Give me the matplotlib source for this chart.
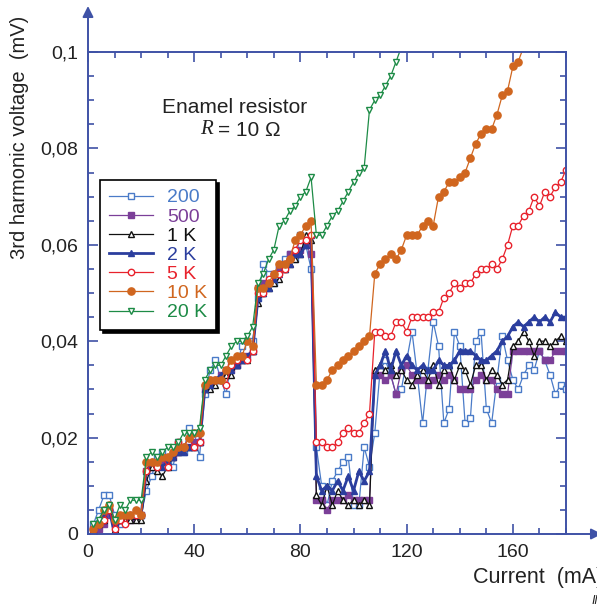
"""
Third harmonic voltage vs current for an enamel resistor (R = 10 ohm)
"""

import numpy as np
import matplotlib.pyplot as plt

plt.rcParams['font.family'] = ['Liberation Sans', 'DejaVu Sans']

# current sweep, mA
current = np.arange(2, 181, 2)

labels = ['200', '500', '1 K', '2 K', '5 K', '10 K', '20 K']

v200 = [.002, .005, .008, .008, .004, .002, .003, .004, .004, .004,
        .009, .012, .016, .017, .015, .014, .019, .017, .022, .021, .016,
        .029, .034, .036, .032, .029, .036, .035, .039, .040, .040,
        .049, .056, .054, .052, .055, .057, .058, .057, .062, .060, .055,
        .018, .010, .006, .011, .013, .015, .016, .006, .006, .018, .014,
        .021, .034, .036, .033, .029, .030, .036, .042, .033, .023, .034,
        .044, .039, .023, .026, .042, .039, .023, .024, .040, .042, .026,
        .023, .032, .041, .036, .032, .030, .033, .035, .034, .038, .036,
        .033, .029, .031, .030]

v500 = [.001, .001, .002, .004, .002, .003, .003, .003, .004, .004,
        .013, .014, .015, .015, .016, .016, .017, .018, .018, .019, .019,
        .030, .031, .032, .033, .034, .034, .035, .036, .037, .038,
        .051, .052, .052, .054, .055, .056, .058, .058, .059, .060, .058,
        .007, .007, .005, .007, .007, .007, .008, .007, .007, .007, .007,
        .033, .033, .032, .033, .029, .034, .035, .033, .032, .032, .031,
        .032, .033, .032, .033, .032, .030, .030, .030, .032, .033, .032,
        .032, .030, .029, .029, .038, .038, .038, .038, .038, .038, .036,
        .036, .038, .038, .038]

v1k = [.001, .002, .003, .006, .001, .003, .003, .003, .003, .003,
       .011, .014, .013, .012, .014, .016, .017, .018, .018, .018, .019,
       .030, .030, .031, .032, .033, .033, .035, .036, .036, .038,
       .048, .050, .051, .052, .053, .055, .056, .057, .058, .062, .061,
       .008, .006, .010, .006, .009, .007, .006, .007, .006, .007, .006,
       .034, .035, .034, .035, .033, .034, .032, .031, .033, .034, .032,
       .035, .031, .034, .035, .032, .035, .034, .031, .035, .035, .032,
       .034, .033, .031, .032, .039, .040, .042, .040, .037, .040, .040,
       .039, .040, .041, .040]

v2k = [.001, .003, .004, .005, .000, .003, .004, .004, .004, .004,
       .013, .015, .015, .014, .015, .016, .017, .017, .018, .018, .019,
       .030, .031, .032, .033, .034, .034, .035, .036, .037, .038,
       .049, .050, .051, .053, .054, .055, .056, .058, .058, .060, .062,
       .012, .009, .010, .009, .011, .009, .012, .009, .013, .011, .013,
       .033, .035, .038, .034, .038, .035, .037, .035, .034, .035, .034,
       .034, .036, .035, .035, .036, .038, .038, .038, .037, .036, .036,
       .037, .038, .040, .041, .043, .044, .043, .044, .045, .044, .045,
       .044, .046, .045, .045]

v5k = [.000, .002, .003, .005, .001, .003, .002, .004, .004, .004,
       .013, .015, .014, .016, .014, .017, .019, .018, .020, .018, .019,
       .031, .032, .032, .032, .031, .035, .036, .037, .036, .038,
       .050, .050, .053, .054, .054, .055, .057, .059, .061, .061, .062,
       .019, .019, .018, .018, .019, .021, .022, .021, .021, .023, .025,
       .042, .042, .041, .041, .044, .044, .042, .045, .045, .045, .045,
       .046, .046, .049, .050, .052, .051, .052, .052, .054, .055, .055,
       .056, .055, .057, .060, .064, .064, .066, .067, .070, .068, .071,
       .070, .072, .073, .0756]

v10k = [.001, .002, .005, .006, .003, .004, .004, .004, .005, .004,
        .015, .015, .015, .016, .016, .017, .018, .018, .020, .021, .021,
        .031, .032, .032, .032, .034, .036, .037, .037, .040, .039,
        .051, .051, .052, .054, .056, .056, .057, .061, .062, .064, .065,
        .031, .031, .032, .034, .035, .036, .037, .038, .039, .040, .041,
        .054, .056, .057, .058, .057, .059, .062, .062, .062, .064, .065,
        .064, .070, .071, .073, .073, .074, .075, .078, .081, .083, .084,
        .084, .087, .091, .092, .097, .098, .101, .104, .107, .110, .113,
        .116, .119, .122, .125]

v20k = [.002, .003, .005, .006, .003, .006, .005, .007, .007, .007,
        .016, .017, .016, .017, .018, .018, .019, .021, .021, .021, .022,
        .032, .034, .035, .035, .037, .039, .040, .040, .041, .043,
        .052, .054, .057, .059, .064, .065, .067, .068, .070, .071, .074,
        .062, .062, .064, .066, .067, .069, .071, .073, .075, .076, .088,
        .090, .091, .093, .095, .098, .101, .105, .109, .113, .117, .121,
        .125, .129, .133, .137, .141, .145, .149, .153, .157, .161, .165,
        .169, .173, .177, .181, .185, .189, .193, .197, .201, .205, .209,
        .213, .217, .221, .225]

series = [v200, v500, v1k, v2k, v5k, v10k, v20k]
colors = ['#4a7bc8', '#7b3f98', '#111111', '#2b3e9e', '#e8222c', '#d0661f', '#1d8b46']
markers = ['s', 's', '^', '^', 'o', 'o', 'v']
filled = [False, True, False, True, False, True, False]
widths = [0.9, 0.9, 0.9, 2.0, 0.9, 0.9, 0.9]
msizes = [4.6, 4.6, 4.4, 5.0, 4.6, 5.2, 4.4]

axcol = '#3f52a6'
txtcol = '#222222'

fig = plt.figure(figsize=(5.97, 6.08), dpi=100)
ax = fig.add_axes([88 / 597, 1 - 534 / 608, 478 / 597, 482 / 608])

for vals, lab, c, m, f, lw, ms in zip(series, labels, colors, markers, filled, widths, msizes):
    ax.plot(current, vals, color=c, lw=lw, marker=m, ms=ms, mew=1.0,
            mfc=c if f else 'white', mec=c, label=lab)

ax.set_xlim(0, 180)
ax.set_ylim(0, 0.1)

ax.set_xticks([0, 40, 80, 120, 160])
ax.set_xticks(np.arange(0, 181, 10), minor=True)
ax.set_yticks([0, 0.02, 0.04, 0.06, 0.08, 0.1])
ax.set_yticklabels(['0', '0,02', '0,04', '0,06', '0,08', '0,1'])
ax.set_yticks(np.arange(0, 0.1001, 0.005), minor=True)

ax.tick_params(which='both', direction='in', top=True, right=True,
               color=axcol, width=1.2, labelsize=14, labelcolor=txtcol)
ax.tick_params(which='major', length=7, pad=7)
ax.tick_params(which='minor', length=4)

for sp in ax.spines.values():
    sp.set_color(axcol)
    sp.set_linewidth(1.4)

# axis arrows
ax.annotate('', xy=(0, 1 + 46 / 482), xytext=(0, 1), xycoords='axes fraction',
            arrowprops=dict(arrowstyle='-|>', color=axcol, lw=1.4, mutation_scale=16,
                            shrinkA=0, shrinkB=0), annotation_clip=False)
ax.annotate('', xy=(1 + 36 / 478, 0), xytext=(1, 0), xycoords='axes fraction',
            arrowprops=dict(arrowstyle='-|>', color=axcol, lw=1.4, mutation_scale=16,
                            shrinkA=0, shrinkB=0), annotation_clip=False)

leg = ax.legend(loc='upper left', bbox_to_anchor=(12 / 478, (534 - 180) / 482),
                borderaxespad=0, fontsize=14, handlelength=2.3, handletextpad=0.7,
                labelspacing=0.08, borderpad=0.45, fancybox=False,
                edgecolor='black', shadow={'color': 'black', 'alpha': 1.0})
leg.get_frame().set_linewidth(1.2)
for t, c in zip(leg.get_texts(), colors):
    t.set_color(c)

fig.text(235 / 597, 1 - 108 / 608, 'Enamel resistor', ha='center', va='center',
         fontsize=15, color=txtcol)
fig.text(206 / 597, 1 - 130 / 608, 'R', ha='center', va='center', fontsize=15,
         family='Liberation Serif', style='italic', color=txtcol)
fig.text(218 / 597, 1 - 130 / 608, '= 10 Ω', ha='left', va='center',
         fontsize=15, color=txtcol)

fig.text(20 / 597, 1 - 137 / 608, '3rd harmonic voltage  (mV)', rotation=90,
         ha='center', va='center', fontsize=14.5, color=txtcol)
fig.text(473 / 597, 1 - 578 / 608, 'Current  (mA)', ha='left', va='center',
         fontsize=15.5, color=txtcol)
fig.text(592 / 597, 1 - 601 / 608, 'Il', ha='left', va='center', fontsize=9,
         style='italic', color=txtcol)

fig.savefig('out.png', dpi=100)
